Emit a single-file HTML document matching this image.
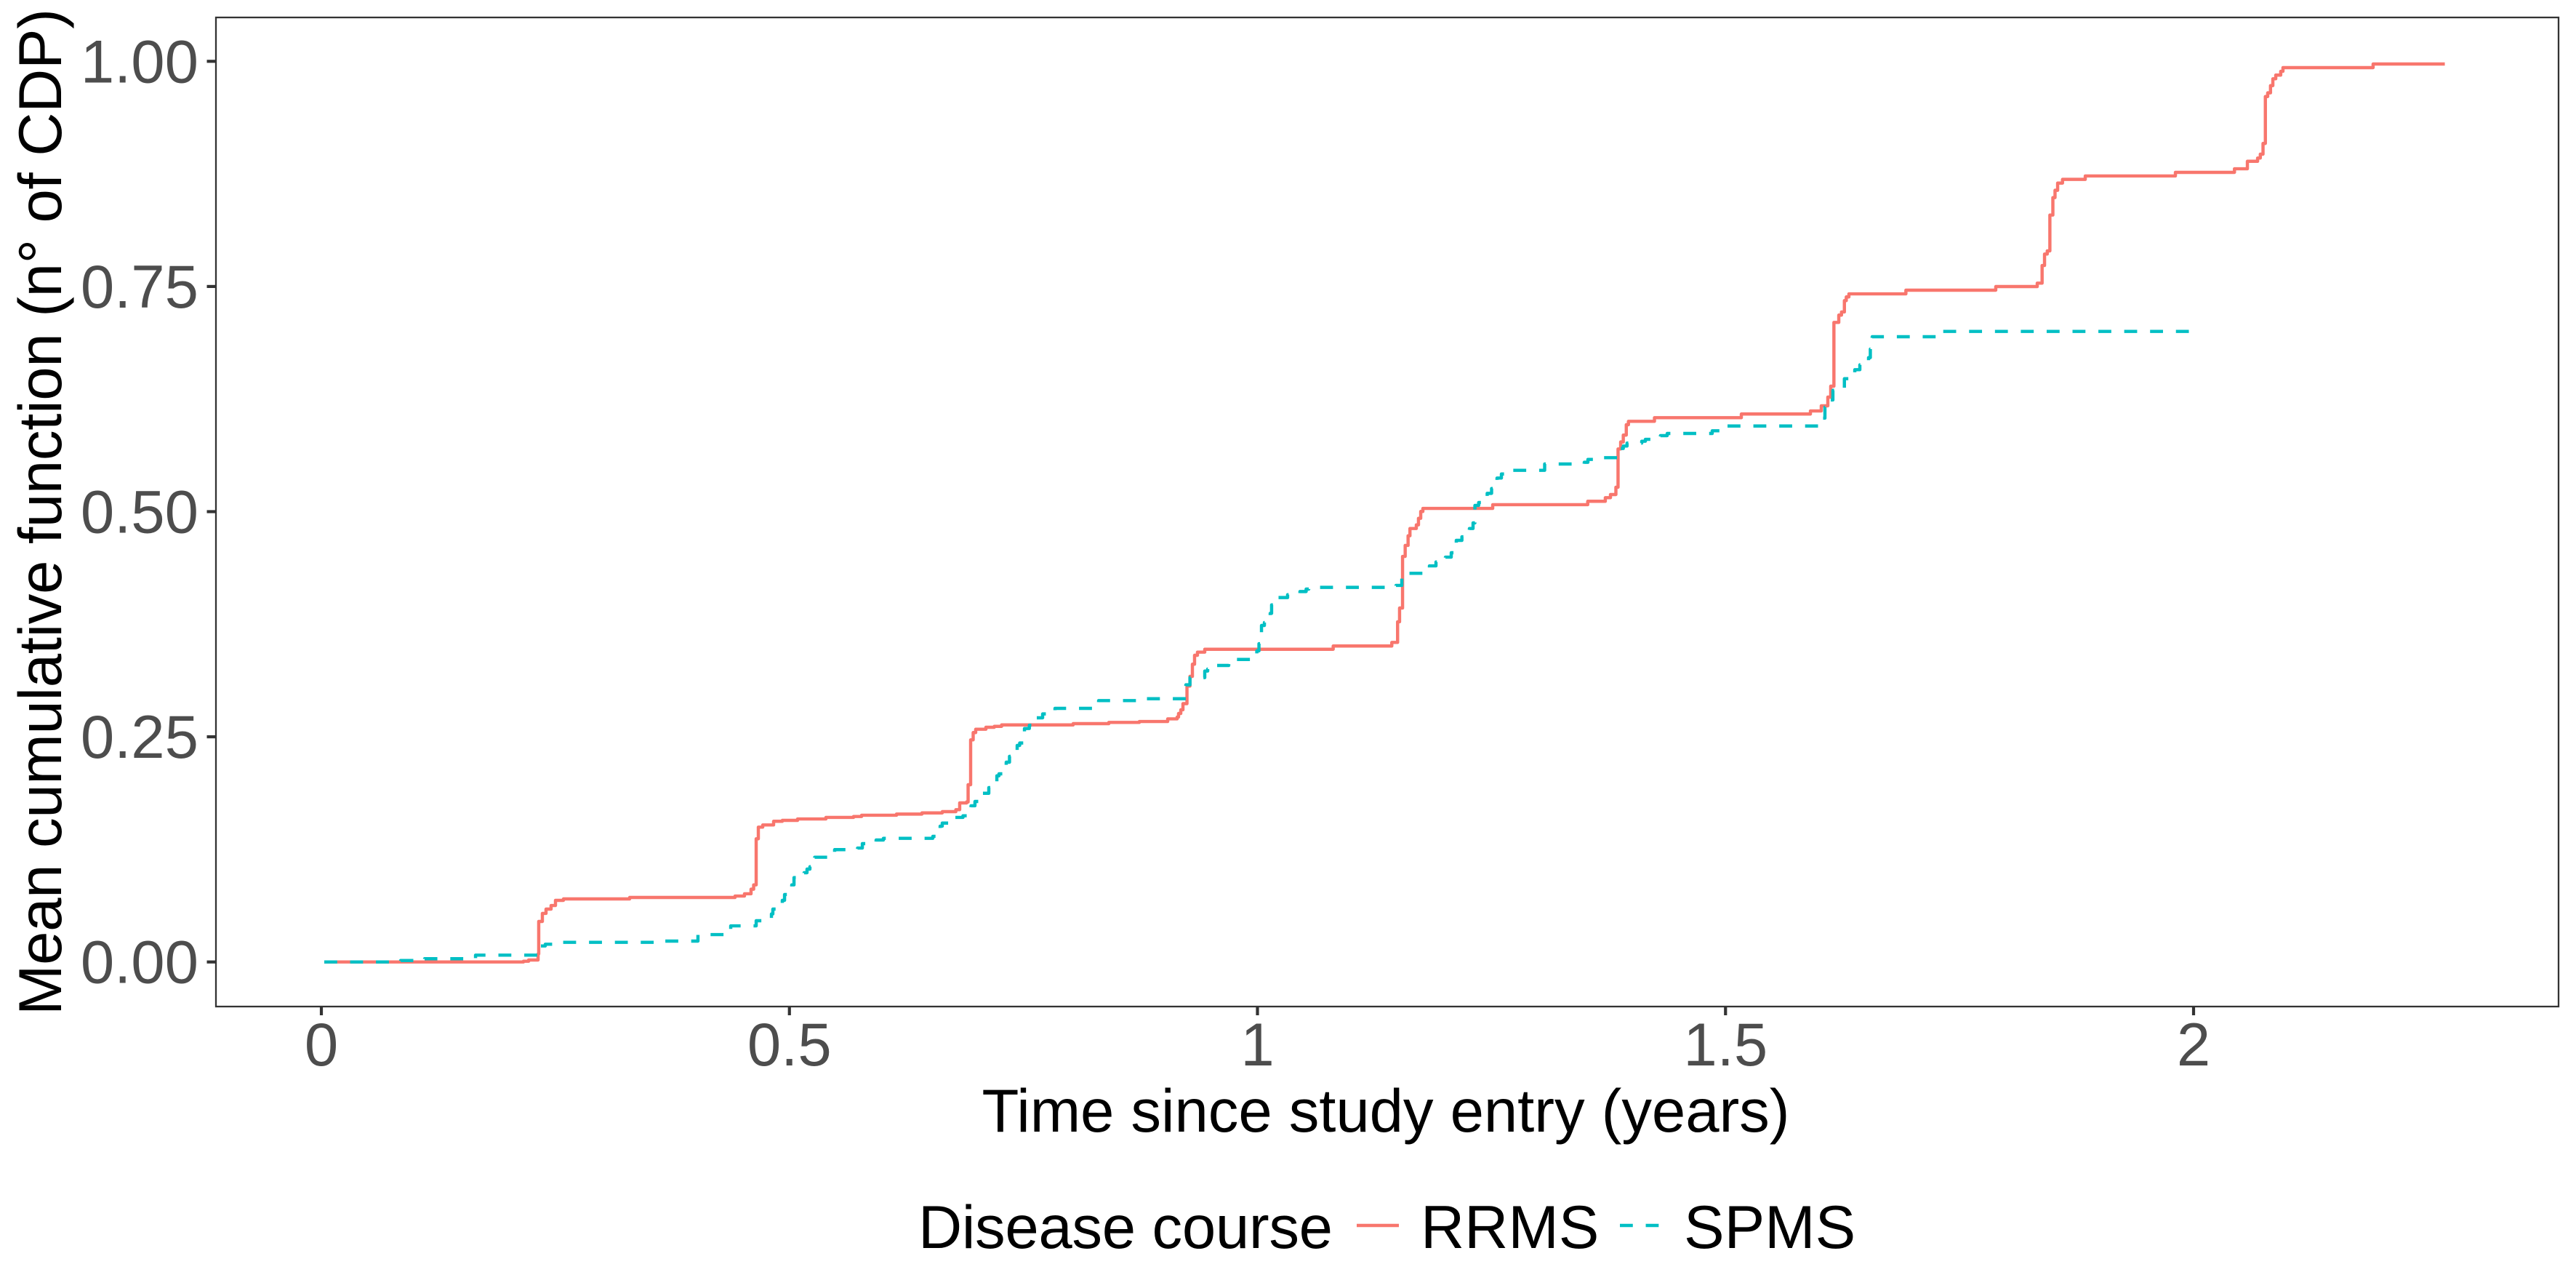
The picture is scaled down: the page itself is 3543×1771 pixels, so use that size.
<!DOCTYPE html>
<html lang="en">
<head>
<meta charset="utf-8">
<title>Mean cumulative function by disease course</title>
<style>
  html, body { margin: 0; padding: 0; background: #fff; }
  svg { display: block; }
  text { font-family: "Liberation Sans", Arial, sans-serif; font-size: 83.33px; }
  .tick-label { fill: #4D4D4D; }
  .title-label { fill: #000; }
</style>
</head>
<body>
<svg id="chart" xmlns="http://www.w3.org/2000/svg" width="3543" height="1771" viewBox="0 0 3543 1771">
  <rect x="0" y="0" width="3543" height="1771" fill="#fff"/>
  <g id="series-layer"></g>
  <rect x="297" y="24" width="3222" height="1360" fill="none" stroke="#333333" stroke-width="2.3"/>
  <g id="x-axis"></g>
  <g id="y-axis"></g>
  <text class="title-label" x="1906" y="1556" text-anchor="middle" textLength="1111" lengthAdjust="spacing">Time since study entry (years)</text>
  <text class="title-label" transform="translate(84 704) rotate(-90)" text-anchor="middle" textLength="1384" lengthAdjust="spacing">Mean cumulative function (n° of CDP)</text>
  <g>
    <text class="title-label" x="1263" y="1716" textLength="570" lengthAdjust="spacing">Disease course</text>
    <line x1="1866" y1="1685" x2="1924" y2="1685" stroke="#F8766D" stroke-width="4.44"/>
    <text class="title-label" x="1954" y="1716">RRMS</text>
    <line x1="2228" y1="1685" x2="2286" y2="1685" stroke="#00BFC4" stroke-width="4.44" stroke-dasharray="17.78 17.78"/>
    <text class="title-label" x="2316" y="1716">SPMS</text>
  </g>
</svg>
<script>
const xTickValues = [0, 0.5, 1, 1.5, 2];
const xTickLabels = ['0', '0.5', '1', '1.5', '2'];
const yTickValues = [0, 0.25, 0.5, 0.75, 1];
const yTickLabels = ['0.00', '0.25', '0.50', '0.75', '1.00'];

const rrmsTime = [0.0031,0.2159,0.2214,0.2315,0.2322,0.2361,0.2400,0.2454,0.2501,0.2586,0.3293,0.4419,0.4520,0.4590,0.4618,0.4645,0.4668,0.4715,0.4831,0.4924,0.5087,0.5390,0.5685,0.5771,0.6144,0.6416,0.6633,0.6778,0.6819,0.6893,0.6909,0.6936,0.6963,0.6990,0.7099,0.7189,0.7267,0.8031,0.8412,0.8738,0.9041,0.9142,0.9157,0.9181,0.9204,0.9247,0.9279,0.9305,0.9328,0.9359,0.9437,1.0809,1.1435,1.1497,1.1518,1.1550,1.1578,1.1609,1.1629,1.1697,1.1720,1.1744,1.1767,1.2513,1.3528,1.3716,1.3771,1.3829,1.3852,1.3880,1.3908,1.3940,1.3963,1.4241,1.5169,1.5907,1.6023,1.6093,1.6124,1.6158,1.6210,1.6239,1.6270,1.6290,1.6318,1.6927,1.7887,1.8330,1.8382,1.8408,1.8437,1.8465,1.8497,1.8520,1.8548,1.8600,1.8843,1.9806,2.0437,2.0575,2.0684,2.0713,2.0742,2.0767,2.0792,2.0822,2.0847,2.0878,2.0931,2.0955,2.1918,2.2684];
const rrmsValue = [0,0.0008,0.0022,0.0089,0.0450,0.0539,0.0587,0.0627,0.0684,0.0700,0.0716,0.0732,0.0757,0.0808,0.0856,0.1368,0.1497,0.1521,0.1562,0.1572,0.1588,0.1605,0.1615,0.1629,0.1642,0.1655,0.1669,0.1691,0.1766,0.1777,0.1968,0.2466,0.2547,0.2584,0.2606,0.2616,0.2632,0.2646,0.2660,0.2670,0.2699,0.2719,0.2759,0.2800,0.2868,0.3064,0.3171,0.3306,0.3405,0.3440,0.3472,0.3508,0.3548,0.3777,0.3930,0.4503,0.4625,0.4732,0.4813,0.4853,0.4926,0.5002,0.5036,0.5077,0.5115,0.5155,0.5190,0.5271,0.5696,0.5774,0.5850,0.5965,0.6003,0.6043,0.6084,0.6118,0.6175,0.6272,0.6393,0.7101,0.7182,0.7217,0.7343,0.7384,0.7418,0.7459,0.7499,0.7537,0.7733,0.7860,0.7895,0.8293,0.8487,0.8568,0.8648,0.8689,0.8727,0.8767,0.8807,0.8890,0.8926,0.8969,0.9088,0.9609,0.9650,0.9730,0.9806,0.9847,0.9889,0.9930,0.9970,0.9970];

const spmsTime = [0.0031,0.0847,0.1103,0.1647,0.2322,0.2392,0.2548,0.3557,0.4023,0.4373,0.4645,0.4808,0.4823,0.4924,0.4948,0.5025,0.5049,0.5157,0.5188,0.5219,0.5270,0.5483,0.5728,0.5779,0.5926,0.6004,0.6532,0.6610,0.6633,0.6765,0.6854,0.6940,0.6982,0.7060,0.7130,0.7216,0.7239,0.7316,0.7351,0.7433,0.7460,0.7511,0.7563,0.7635,0.7705,0.7837,0.8303,0.8753,0.9235,0.9279,0.9437,0.9468,0.9569,0.9693,0.9993,1.0016,1.0043,1.0074,1.0136,1.0151,1.0198,1.0322,1.0454,1.0520,1.0548,1.1480,1.1542,1.1553,1.1837,1.1907,1.2008,1.2070,1.2124,1.2184,1.2264,1.2303,1.2323,1.2363,1.2454,1.2501,1.2559,1.2606,1.2683,1.3068,1.3491,1.3530,1.3616,1.3877,1.3908,1.3948,1.4105,1.4144,1.4305,1.4377,1.4858,1.4936,1.6016,1.6062,1.6109,1.6147,1.6270,1.6381,1.6435,1.6528,1.6547,1.6567,1.7282,1.9965];
const spmsValue = [0,0.0016,0.0036,0.0076,0.0178,0.0197,0.0218,0.0232,0.0304,0.0401,0.0458,0.0533,0.0587,0.0684,0.0749,0.0856,0.0937,0.0991,0.1031,0.1058,0.1163,0.1247,0.1265,0.1314,0.1354,0.1373,0.1395,0.1508,0.1542,0.1605,0.1623,0.1734,0.1782,0.1873,0.1936,0.2067,0.2089,0.2218,0.2283,0.2404,0.2431,0.2592,0.2628,0.2711,0.2754,0.2816,0.2902,0.2923,0.3077,0.3157,0.3230,0.3252,0.3292,0.3359,0.3454,0.3534,0.3736,0.3769,0.3871,0.3965,0.4046,0.4078,0.4113,0.4140,0.4159,0.4181,0.4261,0.4315,0.4398,0.4441,0.4495,0.4544,0.4681,0.4721,0.4813,0.4875,0.5069,0.5101,0.5203,0.5257,0.5373,0.5418,0.5459,0.5529,0.5548,0.5580,0.5599,0.5701,0.5728,0.5761,0.5782,0.5803,0.5844,0.5868,0.5898,0.5951,0.6038,0.6159,0.6240,0.6347,0.6476,0.6576,0.6630,0.6710,0.6805,0.6942,0.7001,0.7001];

const SVG_NS = 'http://www.w3.org/2000/svg';
const xScale = function (t) { return 442 + 1287.5 * t; };
const yScale = function (v) { return 1322.7 - 1238.4 * v; };

function stepPath(times, values) {
  let d = 'M' + xScale(times[0]).toFixed(2) + ' ' + yScale(values[0]).toFixed(2);
  for (let i = 1; i < times.length; i++) {
    d += 'H' + xScale(times[i]).toFixed(2) + 'V' + yScale(values[i]).toFixed(2);
  }
  return d;
}

const seriesLayer = document.getElementById('series-layer');

const rrmsLine = document.createElementNS(SVG_NS, 'path');


rrmsLine.setAttribute('d', stepPath(rrmsTime, rrmsValue));
rrmsLine.setAttribute('fill', 'none');
rrmsLine.setAttribute('stroke', '#F8766D');
rrmsLine.setAttribute('stroke-width', '4.44');
rrmsLine.setAttribute('stroke-linejoin', 'round');
seriesLayer.appendChild(rrmsLine);

const spmsLine = document.createElementNS(SVG_NS, 'path');


spmsLine.setAttribute('d', stepPath(spmsTime, spmsValue));
spmsLine.setAttribute('fill', 'none');
spmsLine.setAttribute('stroke', '#00BFC4');
spmsLine.setAttribute('stroke-width', '4.44');
spmsLine.setAttribute('stroke-linejoin', 'round');
spmsLine.setAttribute('stroke-dasharray', '17.78 17.78');
seriesLayer.appendChild(spmsLine);

const xAxis = document.getElementById('x-axis');
xTickValues.forEach(function (value, i) {
  const tick = document.createElementNS(SVG_NS, 'line');
  
  
  tick.setAttribute('x1', xScale(value));
  tick.setAttribute('x2', xScale(value));
  tick.setAttribute('y1', 1384);
  tick.setAttribute('y2', 1396);
  tick.setAttribute('stroke', '#333333');
  tick.setAttribute('stroke-width', '4.2');
  xAxis.appendChild(tick);
  const label = document.createElementNS(SVG_NS, 'text');
  
  
  label.setAttribute('class', 'tick-label');
  label.setAttribute('x', xScale(value));
  label.setAttribute('y', 1465);
  label.setAttribute('text-anchor', 'middle');
  label.textContent = xTickLabels[i];
  xAxis.appendChild(label);
});

const yAxis = document.getElementById('y-axis');
yTickValues.forEach(function (value, i) {
  const tick = document.createElementNS(SVG_NS, 'line');
  
  
  tick.setAttribute('x1', 284.5);
  tick.setAttribute('x2', 297);
  tick.setAttribute('y1', yScale(value));
  tick.setAttribute('y2', yScale(value));
  tick.setAttribute('stroke', '#333333');
  tick.setAttribute('stroke-width', '4.2');
  yAxis.appendChild(tick);
  const label = document.createElementNS(SVG_NS, 'text');
  
  
  label.setAttribute('class', 'tick-label');
  label.setAttribute('x', 273);
  label.setAttribute('y', yScale(value) + 29);
  label.setAttribute('text-anchor', 'end');
  label.textContent = yTickLabels[i];
  yAxis.appendChild(label);
});
</script>
</body>
</html>
